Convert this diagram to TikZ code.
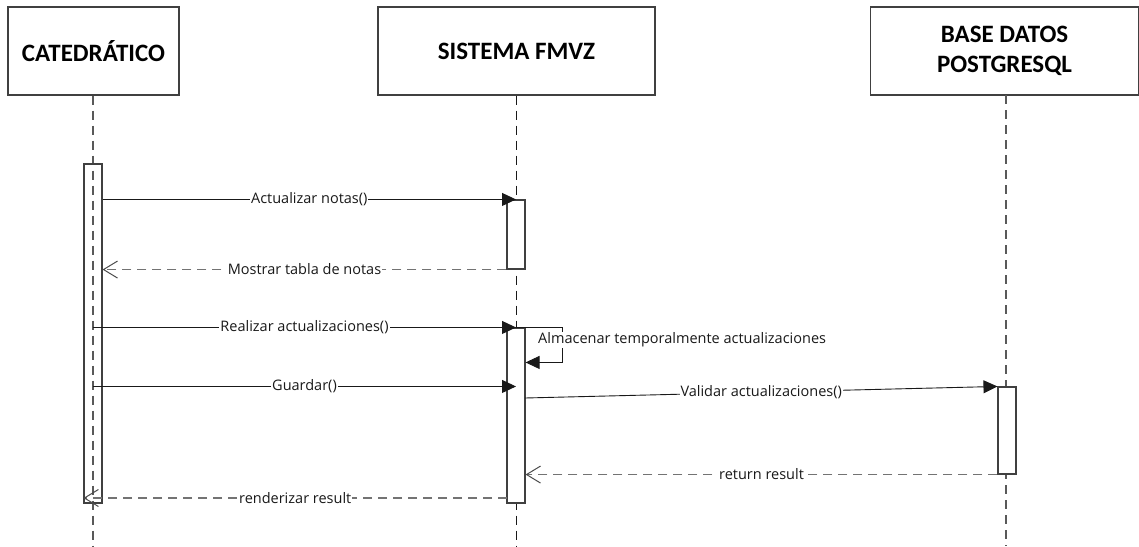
\documentclass[tikz,border=0pt]{standalone}
\usepackage{fontspec}
\setmainfont{Open Sans}
\newfontfamily\headfont{Carlito}
\usetikzlibrary{arrows.meta}

\begin{document}
\begin{tikzpicture}[x=1pt,y=-1pt,
  head/.style={draw=black!75, line width=1.2pt, fill=white, minimum height=88pt,
    inner sep=0pt, align=center, font=\headfont\bfseries\fontsize{25}{30}\selectfont},
  life/.style={draw=black!65, line width=1.1pt, dash pattern=on 9pt off 6pt},
  act/.style={draw=black!75, line width=1.1pt, minimum width=18pt, inner sep=0pt},
  call/.style={draw=black!90, line width=0.9pt, -{Triangle[length=14pt,width=13pt]}},
  reply/.style={draw=black!55, line width=1.1pt, dash pattern=on 9pt off 6pt,
    -{Straight Barb[length=14pt,width=17pt,line width=1pt,black!70]}},
  msg/.style={fill=white, inner sep=1pt, text=black!90, font=\fontsize{14.5}{17}\selectfont}
]
\useasboundingbox (0,0) rectangle (1139,546);

% participants
\node[head, minimum width=171pt] (cat) at (93.5,51) {CATEDRÁTICO};
\node[head, minimum width=277pt] (sis) at (516.5,51) {SISTEMA FMVZ};
\node[head, minimum width=268pt] (db) at (1004.5,51) {BASE DATOS\\POSTGRESQL};

% lifelines
\coordinate (catEnd) at (93,546);
\coordinate (sisEnd) at (516,546);
\coordinate (dbTop) at (1006,95);
\coordinate (dbEnd) at (1006,546);
\draw[life] (cat.south -| catEnd) -- (catEnd);
\draw[life, draw=black!90, line width=0.9pt] (sis.south -| sisEnd) -- (sisEnd);
\draw[life] (dbTop) -- (dbEnd);

% activation bars
\node[act, minimum height=339pt] (catA) at (93,333.5) {};
\node[act, fill=white, minimum height=69pt] (sisA1) at (516,234.5) {};
\node[act, fill=white, minimum height=175pt] (sisA2) at (516,415.5) {};
\node[act, fill=white, minimum height=87pt] (dbA) at (1007,430.5) {};

% messages
\draw[call] (catA.east |- sisA1.north) -- node[msg] {Actualizar notas()} (sisA1.north);
\draw[reply] (sisA1.south west) -- node[msg] {Mostrar tabla de notas} (catA.east |- sisA1.south west);
\draw[call] (catA.center |- sisA2.north) -- node[msg] {Realizar actualizaciones()} (sisA2.north);
\draw[call] (sisA2.north west) -- (sisA2.north east) -- ++(37,0) -- ++(0,35) -- ++(-37,0);
\node[msg, anchor=west] (selfLbl) at (537,340) {Almacenar temporalmente actualizaciones};
\draw[call] (catA.center |- dbA.north) -- node[msg] {Guardar()} (sisA2.center |- dbA.north);
\coordinate (valStart) at (525,398);
\draw[call] (valStart) -- node[msg] {Validar actualizaciones()} (dbA.north west);
\draw[reply] (dbA.south west) -- node[msg] {return result} (sisA2.east |- dbA.south west);
\coordinate (rendStart) at (507,498);
\draw[reply] (rendStart) -- node[msg] {renderizar result} (catA.west |- rendStart);
\end{tikzpicture}
\end{document}
